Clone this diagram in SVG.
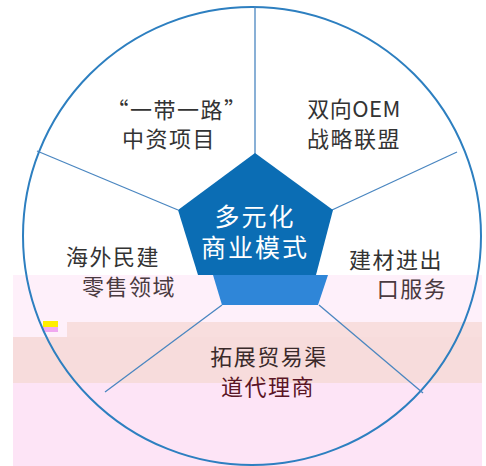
<svg xmlns="http://www.w3.org/2000/svg" width="486" height="466" viewBox="0 0 486 466">
<style>
.t{font-family:"Noto Sans CJK SC","Noto Sans",sans-serif;font-size:22px;fill:#333;text-anchor:middle;letter-spacing:1.5px}
.c{font-family:"Liberation Sans","Noto Sans CJK SC",sans-serif;font-size:25px;fill:#fff;text-anchor:middle;letter-spacing:2px}
.ln{stroke:#4a86c0;stroke-width:1.3;fill:none}
</style>
<rect width="486" height="466" fill="#fff"/>
<g id="background">
<rect x="13" y="275" width="469" height="47" fill="#fef0fa"/>
<rect x="13" y="322" width="469" height="15" fill="#fef0fa"/>
<rect x="67" y="322" width="415" height="15" fill="#f8dede"/>
<rect x="13" y="337" width="469" height="46" fill="#f7dcdc"/>
<rect x="13" y="383" width="469" height="83" fill="#fde4f6"/>
<rect x="43" y="321" width="15" height="6" fill="#ffee00"/>
<rect x="43" y="327" width="15" height="5" fill="#f0a8f0"/>
</g>
<g id="connectors">
<circle cx="252" cy="236" r="229" fill="none" stroke="#2d7fc0" stroke-width="2"/>
<line class="ln" x1="255" y1="154" x2="255" y2="7"/>
<line class="ln" x1="178" y1="210" x2="37" y2="151"/>
<line class="ln" x1="332" y1="210" x2="457" y2="152"/>
<line class="ln" x1="222" y1="305" x2="105" y2="392"/>
<line class="ln" x1="319" y1="305" x2="423" y2="393"/>
</g>
<g id="center">
<polygon points="255,153 333,210 316,275 198,275 178,210" fill="#0b6db4"/>
<polygon points="213,275 328,275 318,305 222,305" fill="#2f86d8"/>
<text class="c" x="255" y="226">多元化</text>
<text class="c" x="255" y="257">商业模式</text>
</g>
<g id="node-belt-road">
<text class="t" x="177" y="118">“一带一路”</text>
<text class="t" x="169" y="147">中资项目</text>
</g>
<g id="node-oem">
<text class="t" x="354" y="117" style="letter-spacing:0.5px">双向OEM</text>
<text class="t" x="354" y="147">战略联盟</text>
</g>
<g id="node-retail">
<text class="t" x="113" y="265">海外民建</text>
<text class="t" x="129" y="295" style="fill:#4a3a40">零售领域</text>
</g>
<g id="node-export">
<text class="t" x="396" y="268">建材进出</text>
<text class="t" x="412" y="297" style="fill:#4a3a40">口服务</text>
</g>
<g id="node-channel">
<text class="t" x="269" y="365" style="fill:#3a2a2a">拓展贸易渠</text>
<text class="t" x="268" y="395" style="fill:#5a1525">道代理商</text>
</g>
</svg>
